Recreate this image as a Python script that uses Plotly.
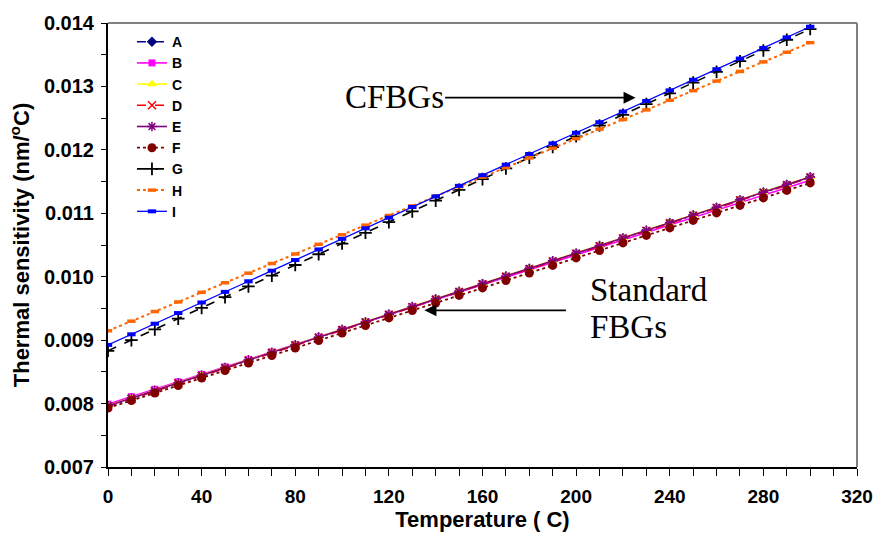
import plotly.graph_objects as go

# Temperature (C)
temperature = [0, 10, 20, 30, 40, 50, 60, 70, 80, 90, 100, 110, 120, 130, 140, 150,
               160, 170, 180, 190, 200, 210, 220, 230, 240, 250, 260, 270, 280, 290, 300]

# Thermal sensitivity values, in units of 1e-6 nm/C
A_u = [7960, 8080, 8201, 8321, 8441, 8562, 8682, 8802, 8922, 9043, 9163, 9283, 9404, 9524, 9644, 9765,
       9885, 10005, 10125, 10246, 10366, 10486, 10607, 10727, 10847, 10968, 11088, 11208, 11328, 11449, 11569]
B_u = [7990, 8108, 8225, 8343, 8461, 8579, 8696, 8814, 8932, 9049, 9167, 9285, 9402, 9520, 9638, 9756,
       9873, 9991, 10109, 10226, 10344, 10462, 10579, 10697, 10815, 10933, 11050, 11168, 11286, 11403, 11521]
C_u = [7968, 8088, 8209, 8329, 8449, 8570, 8690, 8810, 8930, 9051, 9171, 9291, 9412, 9532, 9652, 9773,
       9893, 10013, 10133, 10254, 10374, 10494, 10615, 10735, 10855, 10976, 11096, 11216, 11336, 11457, 11577]
D_u = [7954, 8074, 8195, 8315, 8435, 8556, 8676, 8796, 8916, 9037, 9157, 9277, 9398, 9518, 9638, 9759,
       9879, 9999, 10119, 10240, 10360, 10480, 10601, 10721, 10841, 10962, 11082, 11202, 11322, 11443, 11563]
E_u = [7964, 8084, 8205, 8325, 8445, 8566, 8686, 8806, 8926, 9047, 9167, 9287, 9408, 9528, 9648, 9769,
       9889, 10009, 10129, 10250, 10370, 10490, 10611, 10731, 10851, 10972, 11092, 11212, 11332, 11453, 11573]
F_u = [7930, 8048, 8167, 8285, 8403, 8522, 8640, 8758, 8876, 8995, 9113, 9231, 9350, 9468, 9586, 9705,
       9823, 9941, 10059, 10178, 10296, 10414, 10533, 10651, 10769, 10888, 11006, 11124, 11242, 11361, 11479]
G_u = [8832, 9001, 9170, 9339, 9508, 9678, 9847, 10016, 10185, 10354, 10523, 10692, 10861, 11030, 11199, 11369,
       11538, 11707, 11876, 12045, 12214, 12383, 12552, 12721, 12890, 13060, 13229, 13398, 13567, 13736, 13905]
H_u = [9148, 9299, 9451, 9602, 9754, 9905, 10056, 10208, 10359, 10511, 10662, 10813, 10965, 11116, 11268, 11419,
       11570, 11722, 11873, 12025, 12176, 12327, 12479, 12630, 12782, 12933, 13084, 13236, 13387, 13539, 13690]
I_u = [8925, 9092, 9259, 9427, 9594, 9761, 9928, 10095, 10263, 10430, 10597, 10764, 10931, 11099, 11266, 11433,
       11600, 11767, 11935, 12102, 12269, 12436, 12603, 12771, 12938, 13105, 13272, 13439, 13607, 13774, 13941]

series_names = ["A", "B", "C", "D", "E", "F", "G", "H", "I"]
series_values = [A_u, B_u, C_u, D_u, E_u, F_u, G_u, H_u, I_u]

x_ticks = [0, 40, 80, 120, 160, 200, 240, 280, 320]
y_ticks = [0.007, 0.008, 0.009, 0.010, 0.011, 0.012, 0.013, 0.014]

styles = {
    "A": dict(color="#000080", dash="dashdot", width=1.6, symbol="diamond", msize=8),
    "B": dict(color="#FF00FF", dash="solid", width=1.6, symbol="square", msize=7),
    "C": dict(color="#FFFF00", dash="solid", width=1.6, symbol="triangle-up", msize=9),
    "D": dict(color="#FF0000", dash="dash", width=1.6, symbol="x-thin-open", msize=8),
    "E": dict(color="#800080", dash="solid", width=1.6, symbol="asterisk-open", msize=8),
    "F": dict(color="#800000", dash="dot", width=1.8, symbol="circle", msize=9),
    "G": dict(color="#000000", dash="dash", width=1.6, symbol="cross-thin-open", msize=9),
    "H": dict(color="#FF6600", dash="dot", width=2, symbol="line-ew-open", msize=6),
    "I": dict(color="#0000FF", dash="solid", width=1.3, symbol="line-ew-open", msize=6),
}
open_line_w = {"D": 1.5, "E": 1.5, "G": 1.8, "H": 3.5, "I": 4}

fig = go.Figure()
for name, vals in zip(series_names, series_values):
    s = styles[name]
    marker = dict(symbol=s["symbol"], size=s["msize"], color=s["color"])
    if name in open_line_w:
        marker["line"] = dict(color=s["color"], width=open_line_w[name])
    else:
        marker["line"] = dict(width=0)
    fig.add_trace(go.Scatter(
        x=temperature, y=[v / 1e6 for v in vals], name=name, mode="lines+markers",
        line=dict(color=s["color"], dash=s["dash"], width=s["width"]),
        marker=marker,
    ))

fig.update_layout(
    width=885, height=541,
    margin=dict(l=108, r=19, t=17, b=74),
    paper_bgcolor="white", plot_bgcolor="white",
    font=dict(family="Liberation Sans", color="black"),
    showlegend=True,
    legend=dict(x=0.032, y=0.993, xanchor="left", yanchor="top",
                bgcolor="rgba(0,0,0,0)", font=dict(size=14, weight="bold"),
                itemwidth=30, tracegroupgap=0),
)

fig.update_xaxes(
    range=[0, 320], tickvals=x_ticks, ticks="outside", ticklen=7, tickwidth=1, tickcolor="black",
    showline=True, linecolor="black", linewidth=2, showgrid=False, zeroline=False,
    tickfont=dict(size=19, weight="bold"), ticklabelstandoff=4,
    minor=dict(dtick=10, ticks="outside", ticklen=7, tickcolor="black", tickwidth=1, showgrid=False),
    title=dict(text="Temperature ( C)", font=dict(size=22, weight="bold"), standoff=0),
)
fig.update_yaxes(
    range=[0.007, 0.014], tickvals=y_ticks, tickformat=".3f", ticks="outside", ticklen=5,
    tickwidth=1, tickcolor="black",
    showline=True, linecolor="black", linewidth=2, showgrid=False, zeroline=False,
    tickfont=dict(size=20, weight="bold"), ticklabelstandoff=3,
    minor=dict(dtick=0.0005, ticks="outside", ticklen=5, tickcolor="black", tickwidth=1, showgrid=False),
    title=dict(text="Thermal sensitivity (nm/<sup>o</sup>C)", font=dict(size=22, weight="bold"), standoff=8),
)

# top and right border (grey)
fig.add_shape(type="line", xref="paper", yref="paper", x0=0, x1=1, y0=1, y1=1,
              line=dict(color="#808080", width=2))
fig.add_shape(type="line", xref="paper", yref="paper", x0=1, x1=1, y0=0, y1=1,
              line=dict(color="#808080", width=2))

serif = dict(family="Liberation Serif", size=33, color="black")

# CFBGs label and arrow
fig.add_annotation(x=225.4, y=0.012823, xref="x", yref="y", text="", showarrow=True,
                   ax=-192, ay=0, axref="pixel", ayref="pixel",
                   arrowhead=2, arrowsize=1.5, arrowwidth=1.6, arrowcolor="black")
fig.add_annotation(x=122.6, y=0.01283, xref="x", yref="y", text="CFBGs",
                   showarrow=False, font=serif, xanchor="center", yanchor="middle")

# Standard FBGs label and arrow
fig.add_annotation(x=135.2, y=0.00947, xref="x", yref="y", text="", showarrow=True,
                   ax=143, ay=0, axref="pixel", ayref="pixel",
                   arrowhead=2, arrowsize=1.5, arrowwidth=1.6, arrowcolor="black")
fig.add_annotation(x=205, y=0.00979, xref="x", yref="y", text="Standard",
                   showarrow=False, font=serif, xanchor="left", yanchor="middle")
fig.add_annotation(x=205, y=0.00920, xref="x", yref="y", text="FBGs",
                   showarrow=False, font=serif, xanchor="left", yanchor="middle")

fig.write_html("out.html")
